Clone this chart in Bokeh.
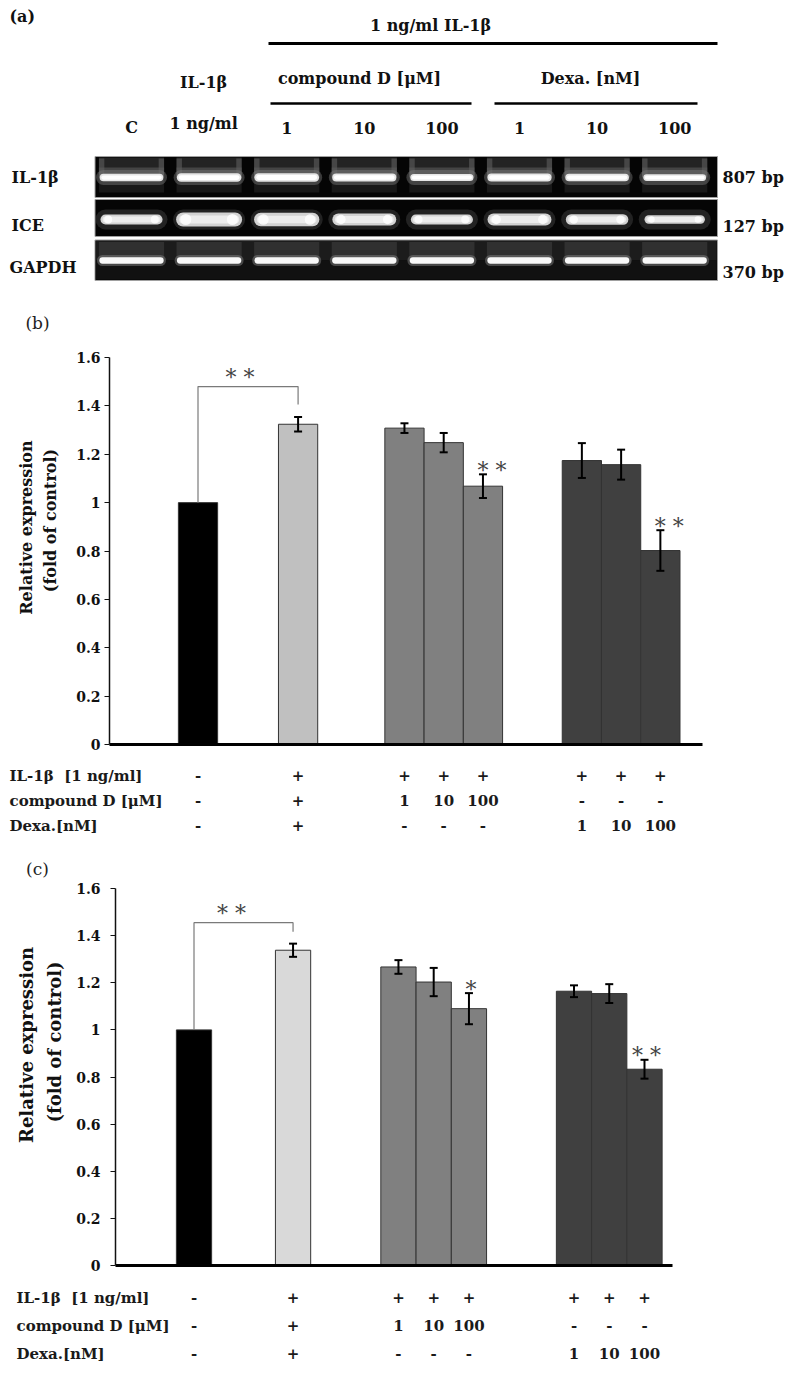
import math
from bokeh.plotting import figure
from bokeh.models import Range1d, FixedTicker, NumeralTickFormatter, ColumnDataSource, LinearAxis
from bokeh.embed import file_html
from bokeh.resources import INLINE
from bokeh.core.properties import value

SERIF = "DejaVu Serif"

# ---------------- data ----------------
lanes = ["C", "IL-1β 1 ng/ml", "cpd D 1", "cpd D 10", "cpd D 100", "Dexa 1", "Dexa 10", "Dexa 100"]
lane_top_labels = ["C", "1 ng/ml", "1", "10", "100", "1", "10", "100"]
gel_rows = ["IL-1β", "ICE", "GAPDH"]
gel_sizes = ["807 bp", "127 bp", "370 bp"]
il1b_band = [0.85, 0.95, 0.97, 0.90, 0.80, 0.90, 0.85, 0.75]
ice_band = [0.72, 1.00, 0.95, 0.85, 0.72, 0.85, 0.75, 0.60]
gapdh_band = [0.90, 0.90, 0.90, 0.90, 0.90, 0.90, 0.90, 0.90]

groups = [1, 1, 3, 3]
b_values = [1.00, 1.324, 1.308, 1.248, 1.068, 1.174, 1.157, 0.802]
b_errors = [0.0, 0.030, 0.020, 0.040, 0.049, 0.072, 0.062, 0.084]
b_marks = ["", "", "", "", "* *", "", "", "* *"]
c_values = [1.00, 1.338, 1.267, 1.203, 1.090, 1.164, 1.154, 0.833]
c_errors = [0.0, 0.028, 0.029, 0.060, 0.066, 0.025, 0.040, 0.040]
c_marks = ["", "", "", "", "*", "", "", "* *"]
pair_mark = "* *"

b_colors = ["#000000", "#c0c0c0", "#808080", "#808080", "#808080", "#404040", "#404040", "#404040"]
c_colors = ["#000000", "#d9d9d9", "#808080", "#808080", "#808080", "#404040", "#404040", "#404040"]

table_titles = ["IL-1β\u00a0\u00a0[1 ng/ml]", "compound D [μM]", "Dexa.[nM]"]
il1b_row = ["-", "+", "+", "+", "+", "+", "+", "+"]
cpd_row = ["-", "+", "1", "10", "100", "-", "-", "-"]
dexa_row = ["-", "+", "-", "-", "-", "1", "10", "100"]
yticks = [0, 0.2, 0.4, 0.6, 0.8, 1.0, 1.2, 1.4, 1.6]
ylabel_lines = ["Relative expression", "(fold of control)"]

# ---------------- one page-sized canvas (page pixel coordinates) ----------------
PX0, PX1, PY0, PY1 = 0, 788, 0, 1372
P = figure(width=PX1 - PX0, height=PY1 - PY0, x_range=Range1d(PX0, PX1), y_range=Range1d(PY1, PY0),
           x_axis_type=None, y_axis_type=None, min_border=0, toolbar_location=None,
           output_backend="svg")
P.outline_line_color = None
P.background_fill_color = "white"
P.border_fill_color = "white"

# ---------------- panel (a): gel ----------------
LANE_PX = 77.6
LANE0_X = 131.0


def lx(px):
    return (px - LANE0_X) / LANE_PX


P.extra_x_ranges["lane"] = Range1d(lx(PX0), lx(PX1))
L = dict(x_range_name="lane")

nl = len(lanes)
idx = list(range(nl))
gx0, gx1 = lx(94.5), lx(717)
row_top = [156, 199, 239.5]
row_bot = [197, 236, 280]
P.quad(left=gx0, right=gx1, top=row_top, bottom=row_bot,
       fill_color="#050505", line_color="#a0a0a0", line_width=1, **L)

hw = 0.42
# row 1 (IL-1β)
y1 = 177
P.quad(left=[i - hw for i in idx], right=[i + hw for i in idx], top=row_top[0] + 1, bottom=y1,
       fill_color="#232323", line_color=None, **L)
P.quad(left=[i - hw for i in idx], right=[i - hw + 0.07 for i in idx], top=row_top[0] + 2, bottom=y1,
       fill_color="#707070", fill_alpha=0.45, line_color=None, **L)
P.quad(left=[i + hw - 0.07 for i in idx], right=[i + hw for i in idx], top=row_top[0] + 2, bottom=y1,
       fill_color="#707070", fill_alpha=0.45, line_color=None, **L)
P.quad(left=[i - hw for i in idx], right=[i + hw for i in idx], top=y1 - 10, bottom=y1,
       fill_color="#5a5a5a", fill_alpha=0.6, line_color=None, **L)
P.quad(left=[i - hw for i in idx], right=[i + hw for i in idx], top=y1, bottom=y1 + 15,
       fill_color="#181818", line_color=None, **L)
seg = (33 - 5) / LANE_PX
P.segment(x0=[i - seg for i in idx], x1=[i + seg for i in idx], y0=y1, y1=y1,
          line_width=15, line_color="#7a7a7a", line_alpha=0.45, line_cap="round", **L)
P.segment(x0=[i - seg for i in idx], x1=[i + seg for i in idx], y0=y1, y1=y1,
          line_width=[9 * v for v in il1b_band], line_color="#e6e6e6", line_cap="round", **L)
P.segment(x0=[i - seg for i in idx], x1=[i + seg for i in idx], y0=y1, y1=y1,
          line_width=[5 * v for v in il1b_band], line_color="#ffffff", line_cap="round", **L)

# row 2 (ICE)
y2 = 219
seg2 = (33 - 7) / LANE_PX
P.segment(x0=[i - seg2 for i in idx], x1=[i + seg2 for i in idx], y0=y2, y1=y2,
          line_width=20, line_color="#5a5a5a", line_alpha=0.35, line_cap="round", **L)
P.segment(x0=[i - seg2 for i in idx], x1=[i + seg2 for i in idx], y0=y2, y1=y2,
          line_width=[14 * v for v in ice_band], line_color="#d2d2d2", line_cap="round", **L)
P.segment(x0=[i - seg2 for i in idx], x1=[i + seg2 for i in idx], y0=y2, y1=y2,
          line_width=[8 * v for v in ice_band], line_color="#ececec", line_cap="round", **L)
P.scatter(x=[i + s * 0.30 for i in idx for s in (-1, 1)], y=y2,
          size=[11 * v for v in ice_band for s in (-1, 1)], marker="circle",
          fill_color="#ffffff", fill_alpha=0.8, line_color=None, **L)

# row 3 (GAPDH)
y3 = 260
P.quad(left=gx0 + 0.01, right=gx1 - 0.01, top=row_top[2] + 1, bottom=y3,
       fill_color="#1c1c1c", line_color=None, **L)
P.quad(left=gx0 + 0.01, right=gx1 - 0.01, top=y3, bottom=row_bot[2] - 1,
       fill_color="#111111", line_color=None, **L)
P.quad(left=[i - hw for i in idx], right=[i + hw for i in idx], top=row_top[2] + 2, bottom=y3,
       fill_color="#303030", line_color=None, **L)
seg3 = (33 - 4) / LANE_PX
P.segment(x0=[i - seg3 for i in idx], x1=[i + seg3 for i in idx], y0=y3, y1=y3,
          line_width=11, line_color="#8a8a8a", line_alpha=0.45, line_cap="round", **L)
P.segment(x0=[i - seg3 for i in idx], x1=[i + seg3 for i in idx], y0=y3, y1=y3,
          line_width=[7 * v for v in gapdh_band], line_color="#f8f8f8", line_cap="round", **L)

# header texts
TXT = dict(text_font=value(SERIF), text_font_style="bold", text_font_size="16px",
           text_color="#111111", text_baseline="middle")
P.text(x=[9], y=[16], text=["(a)"], text_align="left", **TXT)
P.text(x=[430, 359, 590], y=[25, 78, 78],
       text=["1 ng/ml IL-1β", "compound D [μM]", "Dexa. [nM]"], text_align="center", **TXT)
P.text(x=[1 - 0.07], y=[82], text=["IL-1β"], text_align="center", **TXT, **L)
P.text(x=[i - (0.07 if i == 1 else 0) for i in idx], y=[123 if i == 1 else 127 for i in idx],
       text=lane_top_labels, text_align="center", **TXT, **L)
P.text(x=[11, 11, 9], y=[177, 225, 267], text=gel_rows, text_align="left", **TXT)
P.text(x=[722] * 3, y=[177, 226, 272], text=gel_sizes, text_align="left", **TXT)
P.segment(x0=[268], x1=[717], y0=[43], y1=[43], line_width=3, line_color="black")
P.segment(x0=[270, 494], x1=[471, 697], y0=[103] * 2, y1=[103] * 2,
          line_width=2.5, line_color="black")


# ---------------- panels (b), (c) ----------------
def bar_panel(key, tag, values, errors, colors, marks, unit_px, gaps, first_px, axis_x0, axis_x1,
              top_px, zero_px, ylab_px, ylab_xy, tag_xy, table_ys, title_x,
              mark_dx, bracket_px, tick_standoff, pair_dx):
    pos = []
    cur = 0.0
    for gi, n in enumerate(groups):
        for _ in range(n):
            pos.append(cur)
            cur += 1.0
        if gi < len(gaps):
            cur += gaps[gi] - 1.0
    ppy = (zero_px - top_px) / 1.6
    xr, yr = key + "x", key + "y"
    P.extra_x_ranges[xr] = Range1d((PX0 - first_px) / unit_px, (PX1 - first_px) / unit_px)
    P.extra_y_ranges[yr] = Range1d((zero_px - PY1) / ppy, (zero_px - PY0) / ppy)
    R = dict(x_range_name=xr, y_range_name=yr)

    yax = LinearAxis(y_range_name=yr, fixed_location=axis_x0, bounds=(0, 1.6),
                     ticker=FixedTicker(ticks=yticks), formatter=NumeralTickFormatter(format="0.[0]"))
    yax.axis_line_width = 1.5
    yax.axis_line_color = "#111111"
    yax.major_tick_line_color = "#111111"
    yax.major_tick_out = 5
    yax.major_tick_in = 0
    yax.minor_tick_line_color = None
    yax.major_label_standoff = tick_standoff
    yax.major_label_text_font = SERIF
    yax.major_label_text_font_style = "bold"
    yax.major_label_text_font_size = "14px"
    yax.major_label_text_color = "#111111"
    P.add_layout(yax, "left")

    xax = LinearAxis(x_range_name=xr, y_range_name=yr, fixed_location=0,
                     bounds=((axis_x0 - first_px) / unit_px, (axis_x1 - first_px) / unit_px),
                     ticker=FixedTicker(ticks=[]))
    xax.axis_line_width = 3
    xax.axis_line_color = "black"
    xax.major_tick_line_color = None
    xax.minor_tick_line_color = None
    xax.major_label_text_font_size = "0px"
    P.add_layout(xax, "below")

    src = ColumnDataSource(dict(x=pos, top=values, color=colors))
    P.vbar(x="x", top="top", bottom=0, width=1.0, fill_color="color", source=src,
           line_color="#333333", line_width=1, **R)

    ex = [pos[i] for i in range(len(pos)) if errors[i] > 0]
    lo = [values[i] - errors[i] for i in range(len(pos)) if errors[i] > 0]
    hi = [values[i] + errors[i] for i in range(len(pos)) if errors[i] > 0]
    cap = 4.0 / unit_px
    P.segment(x0=ex, x1=ex, y0=lo, y1=hi, line_color="black", line_width=2, **R)
    P.segment(x0=[x - cap for x in ex], x1=[x + cap for x in ex], y0=lo, y1=lo,
              line_color="black", line_width=2, **R)
    P.segment(x0=[x - cap for x in ex], x1=[x + cap for x in ex], y0=hi, y1=hi,
              line_color="black", line_width=2, **R)

    # bracket between control and IL-1β
    right_end = values[1] + errors[1] + bracket_px[0] / ppy
    btop = right_end + bracket_px[1] / ppy
    P.line(x=[pos[0], pos[0], pos[1], pos[1]], y=[values[0], btop, btop, right_end],
           line_color="#7a7a7a", line_width=1.2, **R)
    MK = dict(text_font=value(SERIF), text_font_size="22px", text_color="#444444",
              text_align="center", text_baseline="alphabetic")
    P.text(x=[(pos[0] + pos[1]) / 2], y=[btop], text=[pair_mark],
           x_offset=pair_dx, y_offset=-9, **MK, **R)

    mx = [pos[i] for i in range(len(pos)) if marks[i]]
    my = [values[i] + errors[i] for i in range(len(pos)) if marks[i]]
    mt = [m for m in marks if m]
    P.text(x=mx, y=my, text=mt, x_offset=mark_dx, y_offset=-4, **MK, **R)

    # panel tag
    P.text(x=[tag_xy[0]], y=[tag_xy[1]], text=[tag], text_align="center", text_baseline="middle",
           text_font=value(SERIF), text_font_size="17px", text_color="#222222")
    # y-axis label (two lines, rotated)
    P.text(x=[xy[0] for xy in ylab_xy], y=[xy[1] for xy in ylab_xy], text=ylabel_lines,
           angle=math.pi / 2, text_align="center", text_baseline="middle",
           text_font=value(SERIF), text_font_style="bold", text_font_size=f"{ylab_px}px",
           text_color="#111111")
    # treatment table
    TB = dict(text_font=value(SERIF), text_font_style="bold", text_font_size="15px",
              text_color="#1a1a1a", text_baseline="middle")
    P.text(x=[title_x] * 3, y=table_ys, text=table_titles, text_align="left", **TB)
    for row, sy in zip([il1b_row, cpd_row, dexa_row], table_ys):
        P.text(x=pos, y=[sy] * len(pos), text=row, text_align="center", x_range_name=xr, **TB)


bar_panel("b", "(b)", b_values, b_errors, b_colors, b_marks,
          unit_px=39.25, gaps=[2.55, 2.71, 2.52], first_px=197.5, axis_x0=109, axis_x1=702,
          top_px=357, zero_px=744, ylab_px=16, ylab_xy=[(25.5, 527), (50, 520)],
          tag_xy=(37, 322), table_ys=[775, 800, 825], title_x=9,
          mark_dx=9, bracket_px=(12.4, 18), tick_standoff=4, pair_dx=-8)

bar_panel("c", "(c)", c_values, c_errors, c_colors, c_marks,
          unit_px=35.25, gaps=[2.81, 2.99, 2.98], first_px=193.5, axis_x0=115, axis_x1=672,
          top_px=888, zero_px=1265, ylab_px=18, ylab_xy=[(26, 1044.5), (54, 1041.5)],
          tag_xy=(37, 868), table_ys=[1297, 1325, 1353], title_x=16,
          mark_dx=2, bracket_px=(11.8, 9.2), tick_standoff=10, pair_dx=-12)

open("out.html", "w").write(file_html(P, INLINE))
